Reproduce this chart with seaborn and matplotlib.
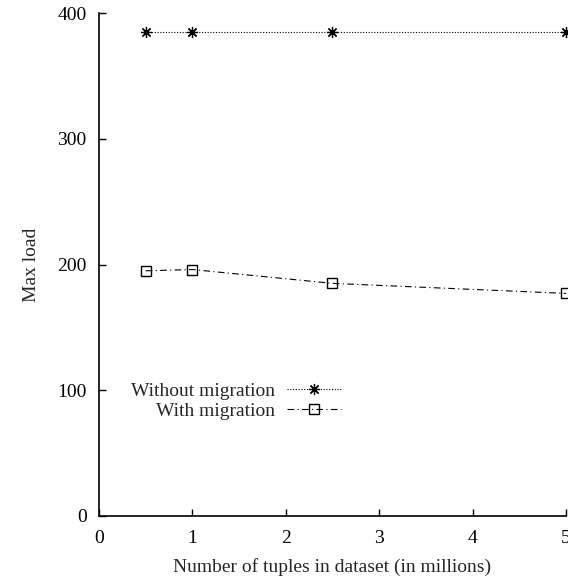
import matplotlib
matplotlib.use("Agg")
import matplotlib.pyplot as plt
import seaborn as sns

# Dataset sizes (millions of tuples) and measured max load
tuples_millions = [0.5, 1, 2.5, 5]
load_without_migration = [385, 385, 385, 385]
load_with_migration = [195, 196, 185, 177]
series_names = ["Without migration", "With migration"]

sns.set_theme(style="ticks")
plt.rcParams["font.family"] = ["Liberation Serif", "DejaVu Serif"]
FS = 14

fig = plt.figure(figsize=(5.68, 5.77), dpi=100)
ax = fig.add_axes([99 / 568, 1 - 516 / 577, (566 - 99) / 568, (516 - 13) / 577])

sns.lineplot(
    x=tuples_millions, y=load_without_migration, ax=ax, color="black",
    linewidth=0.8, linestyle=(0, (1, 1.5)), marker=(8, 2, 0), markersize=8,
    markeredgecolor="black", markeredgewidth=0.9,
    label=series_names[0], clip_on=False,
)
sns.lineplot(
    x=tuples_millions, y=load_with_migration, ax=ax, color="black",
    linewidth=0.8, linestyle=(0, (6, 3, 1, 3)), marker="s", markersize=6.5,
    markerfacecolor="none", markeredgecolor="black", markeredgewidth=1.0,
    label=series_names[1], clip_on=False,
)

ax.set_xlim(0, 5)
ax.set_ylim(0, 400)
ax.set_xticks([0, 1, 2, 3, 4, 5])
ax.set_yticks([0, 100, 200, 300, 400])
ax.tick_params(direction="in", length=5, width=1, colors="black", labelsize=FS)
ax.tick_params(axis="x", pad=10)
ax.tick_params(axis="y", pad=9)
for side in ["top", "right"]:
    ax.spines[side].set_visible(False)
for side in ["left", "bottom"]:
    ax.spines[side].set_linewidth(1.2)
    ax.spines[side].set_color("black")

ax.set_xlabel("Number of tuples in dataset (in millions)", fontsize=FS, labelpad=8)
ax.set_ylabel("Max load", fontsize=FS, labelpad=12)

# Key: labels right-aligned, sample line and marker to the right
handles, labels = ax.get_legend_handles_labels()
ax.legend(
    handles, labels, loc="upper right",
    bbox_to_anchor=((341 - 99) / 467, (516 - 382) / 503),
    markerfirst=False, frameon=False, fontsize=FS, handlelength=2.8,
    handletextpad=0.6, labelspacing=0.12, borderaxespad=0, borderpad=0,
)

fig.savefig("out.png", dpi=100)
